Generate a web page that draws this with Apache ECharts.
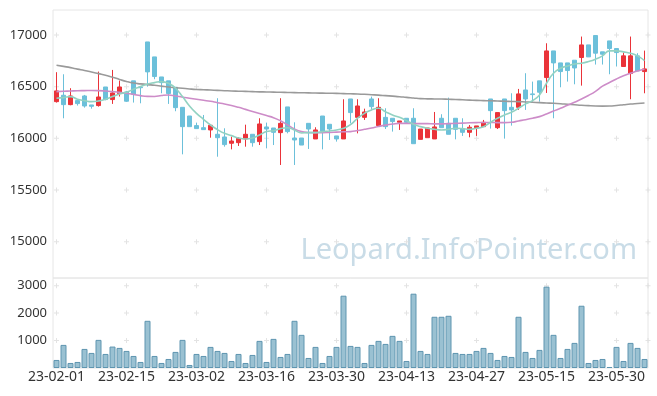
<!DOCTYPE html>
<html>
<head>
<meta charset="utf-8">
<script src="https://cdn.jsdelivr.net/npm/echarts@6.0.0/dist/echarts.min.js"></script>
<style>
html,body{margin:0;padding:0;background:#fff;}
#chart{width:657px;height:396px;}
</style>
</head>
<body>
<div id="chart"></div>
<script>
const dates = [
"23-02-01","23-02-02","23-02-03","23-02-06","23-02-07","23-02-08","23-02-09","23-02-10","23-02-13","23-02-14",
"23-02-15","23-02-16","23-02-17","23-02-20","23-02-21","23-02-22","23-02-23","23-02-24","23-02-27","23-02-28",
"23-03-02","23-03-03","23-03-06","23-03-07","23-03-08","23-03-09","23-03-10","23-03-13","23-03-14","23-03-15",
"23-03-16","23-03-17","23-03-20","23-03-21","23-03-22","23-03-23","23-03-24","23-03-27","23-03-28","23-03-29",
"23-03-30","23-03-31","23-04-03","23-04-04","23-04-05","23-04-06","23-04-07","23-04-10","23-04-11","23-04-12",
"23-04-13","23-04-14","23-04-17","23-04-18","23-04-19","23-04-20","23-04-21","23-04-24","23-04-25","23-04-26",
"23-04-27","23-04-28","23-05-02","23-05-03","23-05-04","23-05-08","23-05-09","23-05-10","23-05-11","23-05-12",
"23-05-15","23-05-16","23-05-17","23-05-18","23-05-19","23-05-22","23-05-23","23-05-24","23-05-25","23-05-26",
"23-05-30","23-05-31","23-06-01","23-06-02","23-06-05"];

const opens = [
16355,16417,16326,16365,16410,16323,16317,16497,16375,16433,
16449,16556,16497,16933,16788,16594,16556,16494,16300,16216,
16123,16103,16081,16039,16013,15952,15958,15994,16039,15968,
16110,16100,16055,16304,16003,16003,16145,15994,16216,16136,
16023,15994,16381,16203,16203,16381,16123,16203,16194,16155,
16194,16194,15990,16006,15994,16194,16145,16194,16090,16058,
16103,16113,16381,16103,16381,16300,16300,16468,16430,16556,
16588,16846,16730,16730,16756,16782,16904,16995,16837,16943,
16869,16695,16627,16798,16646];
const closes = [
16459,16326,16410,16336,16313,16310,16400,16375,16439,16497,
16359,16426,16490,16643,16598,16539,16433,16297,16113,16113,
16094,16084,16126,16006,15939,15974,16000,16039,15958,16139,
16090,16058,16145,16065,15984,15935,16090,16081,16071,16090,
15994,16168,16249,16313,16255,16307,16300,16113,16162,16168,
16155,15948,16090,16100,16110,16103,16039,16087,16058,16107,
16120,16155,16268,16249,16268,16275,16430,16381,16423,16446,
16846,16730,16646,16656,16681,16904,16788,16824,16814,16869,
16830,16798,16798,16652,16672];
const lows = [
16346,16194,16320,16317,16297,16287,16307,16368,16333,16404,
16352,16346,16339,16500,16572,16436,16333,16262,15845,16113,
16094,16084,16006,15822,15919,15893,15926,15919,15919,15935,
15903,15935,15742,16048,15742,15935,15897,15994,15893,15984,
15968,15994,16145,16048,16178,16275,16123,16090,16065,16081,
16145,15948,15990,16006,15994,16103,16039,15990,16023,16010,
16023,16113,16094,16090,15997,16123,16275,16275,16355,16355,
16439,16194,16494,16549,16523,16510,16788,16714,16714,16620,
16695,16695,16378,16652,16436];
const highs = [
16640,16620,16485,16365,16420,16323,16646,16497,16662,16559,
16459,16556,16497,16933,16788,16594,16556,16494,16300,16216,
16152,16226,16126,16388,16097,16016,16010,16132,16039,16194,
16152,16100,16388,16304,16155,16003,16145,16107,16216,16136,
16023,16378,16381,16378,16287,16404,16388,16291,16194,16168,
16194,16291,16090,16100,16255,16233,16394,16194,16194,16129,
16120,16178,16381,16249,16381,16436,16478,16630,16549,16556,
16920,16846,16730,16730,16756,16985,16904,16995,16837,16943,
16869,16830,16985,16824,16849];

const volumes = [
293,842,183,220,695,549,1025,512,781,732,
622,439,220,1720,439,183,329,586,1025,110,
512,439,769,622,549,256,512,183,476,988,
220,1061,403,512,1720,1208,366,769,183,439,
769,2635,805,769,183,842,988,878,1171,988,
256,2708,622,512,1867,1867,1903,549,512,512,
622,732,549,293,439,403,1867,586,366,659,
2965,1208,366,695,915,2269,183,293,329,37,
769,256,915,732,329];

const ma5 = [
16388,16394,16404,16378,16365,16355,16362,16378,16404,16430,
16446,16475,16501,16526,16539,16549,16533,16485,16404,16313,
16242,16184,16129,16084,16048,16026,16003,15994,16003,16032,
16065,16074,16094,16103,16081,16052,16055,16055,16065,16071,
16081,16097,16132,16194,16242,16275,16291,16258,16226,16203,
16171,16136,16113,16097,16087,16081,16087,16097,16094,16087,
16097,16113,16155,16194,16226,16252,16291,16333,16365,16420,
16533,16630,16678,16701,16720,16727,16743,16766,16798,16846,
16846,16837,16824,16798,16753];
const ma20 = [
16452,16455,16458,16461,16462,16463,16462,16458,16452,16445,
16436,16425,16413,16406,16405,16415,16420,16410,16398,16388,
16378,16368,16358,16345,16333,16318,16300,16280,16260,16240,
16220,16200,16170,16130,16090,16065,16057,16055,16055,16057,
16060,16063,16065,16075,16087,16100,16115,16128,16138,16145,
16145,16143,16142,16142,16140,16140,16142,16145,16147,16150,
16152,16153,16153,16152,16152,16155,16168,16180,16195,16210,
16235,16265,16290,16320,16350,16380,16415,16455,16505,16540,
16575,16605,16630,16652,16669];
const ma60 = [
16708,16696,16684,16670,16657,16642,16626,16610,16592,16570,
16550,16535,16527,16520,16514,16505,16496,16490,16484,16478,
16473,16470,16467,16464,16461,16458,16456,16454,16452,16450,
16449,16447,16446,16444,16442,16441,16440,16438,16437,16436,
16435,16433,16431,16429,16426,16422,16418,16413,16408,16403,
16396,16390,16384,16382,16381,16380,16378,16376,16373,16370,
16367,16365,16363,16361,16359,16357,16355,16352,16349,16345,
16342,16339,16335,16330,16325,16320,16316,16313,16312,16313,
16318,16325,16332,16337,16342];

const priceTicks = [15000, 15500, 16000, 16500, 17000];
const volumeTicks = [1000, 2000, 3000];
const labelStep = 10;
const watermark = "Leopard.InfoPointer.com";

const candleData = dates.map((d, i) => [opens[i], closes[i], lows[i], highs[i]]);
const xTickIdx = dates.map((d, i) => i).filter(i => i % labelStep === 0);
const lastIdx = dates.length - 1;

function crosses(ticks) {
  const out = [];
  xTickIdx.forEach(x => ticks.forEach(v => out.push([x, v])));
  return out;
}
function edgeCrosses(ticks) {
  return ticks.map(v => [lastIdx, v]);
}

const crossSymbol = 'path://M2,0h1v2h2v1h-2v2h-1v-2h-2v-1h2z';
const crossStyle = { color: '#dcdcdc' };
const font = "'Noto Sans', sans-serif";
const plain = v => String(v);

const chart = echarts.init(document.getElementById('chart'), null, { renderer: 'canvas' });
chart.setOption({
  animation: false,
  backgroundColor: '#fff',
  textStyle: { fontFamily: font },
  grid: [
    { left: 53, right: 9, top: 10, height: 268, show: true, borderColor: '#e6e6e6', borderWidth: 1, backgroundColor: 'transparent' },
    { left: 53, right: 9, top: 278, height: 90, show: true, borderColor: '#e6e6e6', borderWidth: 1, backgroundColor: 'transparent' }
  ],
  graphic: [{
    type: 'text', right: 20, top: 236, z: 0, silent: true,
    style: { text: watermark, fill: '#c9dce7', font: "29px 'Noto Sans', sans-serif" }
  }],
  xAxis: [
    { type: 'category', gridIndex: 0, data: dates, boundaryGap: true,
      axisLine: { show: false }, axisTick: { show: false }, axisLabel: { show: false }, splitLine: { show: false } },
    { type: 'category', gridIndex: 1, data: dates, boundaryGap: true,
      axisLine: { show: false }, axisTick: { show: false }, splitLine: { show: false },
      axisLabel: { interval: labelStep - 1, color: '#333', fontSize: 14, margin: 2, fontFamily: font } }
  ],
  yAxis: [
    { type: 'value', gridIndex: 0, min: 14648, max: 17242, scale: true,
      axisLine: { show: false }, axisTick: { show: false }, splitLine: { show: false },
      axisLabel: { customValues: priceTicks, formatter: plain, color: '#333', fontSize: 13, margin: 6, fontFamily: font } },
    { type: 'value', gridIndex: 1, min: 0, max: 3280,
      axisLine: { show: false }, axisTick: { show: false }, splitLine: { show: false },
      axisLabel: { customValues: volumeTicks, formatter: plain, color: '#333', fontSize: 13, margin: 6, fontFamily: font } }
  ],
  series: [
    { type: 'scatter', xAxisIndex: 0, yAxisIndex: 0, data: crosses(priceTicks), symbol: crossSymbol, symbolSize: 5, itemStyle: crossStyle, z: 1, silent: true },
    { type: 'scatter', xAxisIndex: 0, yAxisIndex: 0, data: edgeCrosses(priceTicks), symbol: crossSymbol, symbolSize: 5, symbolOffset: [3.5, 0], itemStyle: crossStyle, z: 1, silent: true },
    { type: 'scatter', xAxisIndex: 1, yAxisIndex: 1, data: crosses(volumeTicks), symbol: crossSymbol, symbolSize: 5, itemStyle: crossStyle, z: 1, silent: true },
    { type: 'scatter', xAxisIndex: 1, yAxisIndex: 1, data: edgeCrosses(volumeTicks), symbol: crossSymbol, symbolSize: 5, symbolOffset: [3.5, 0], itemStyle: crossStyle, z: 1, silent: true },
    { type: 'candlestick', xAxisIndex: 0, yAxisIndex: 0, data: candleData, barWidth: 5, z: 3,
      itemStyle: { color: '#ea3339', color0: '#6cc0da', borderColor: '#ea3339', borderColor0: '#6cc0da', borderWidth: 1 } },
    { type: 'line', xAxisIndex: 0, yAxisIndex: 0, data: ma60, showSymbol: false, smooth: true, z: 4,
      lineStyle: { color: '#9a9a9a', width: 1.6 } },
    { type: 'line', xAxisIndex: 0, yAxisIndex: 0, data: ma20, showSymbol: false, smooth: true, z: 4,
      lineStyle: { color: '#cd8cc8', width: 1.6 } },
    { type: 'line', xAxisIndex: 0, yAxisIndex: 0, data: ma5, showSymbol: false, smooth: true, z: 4,
      lineStyle: { color: '#92d2c2', width: 1.6 } },
    { type: 'bar', xAxisIndex: 1, yAxisIndex: 1, data: volumes, barWidth: 6, z: 3,
      itemStyle: { color: '#9ac1d2', borderColor: '#5e95b0', borderWidth: 1 } }
  ]
});
</script>
</body>
</html>
